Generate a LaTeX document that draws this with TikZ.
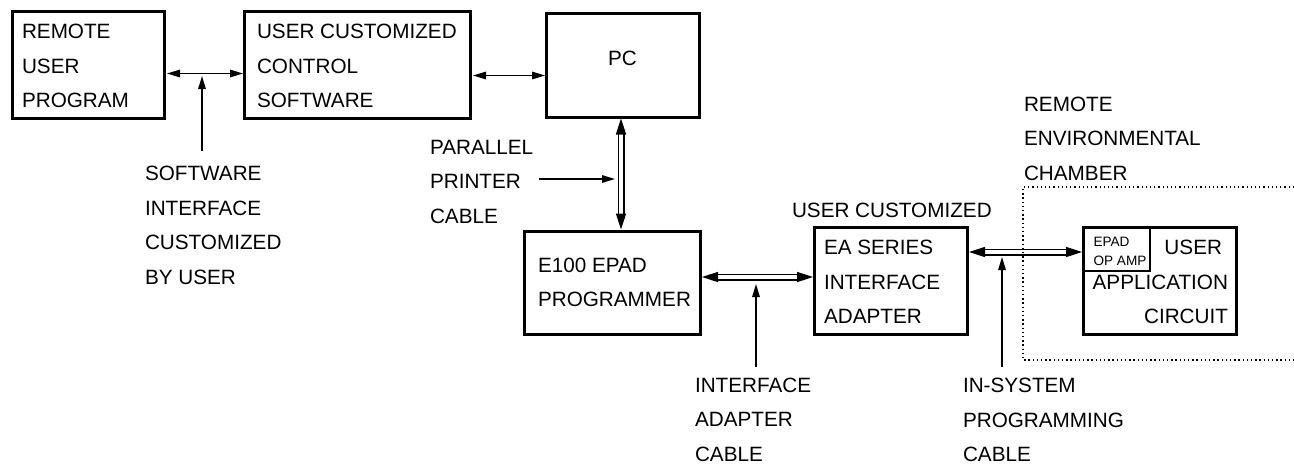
\documentclass[tikz,border=0pt]{standalone}
\usepackage{fontspec}
\setmainfont{Liberation Sans}
\usetikzlibrary{arrows.meta,calc}
\newcommand{\bigfont}{\fontsize{20.7}{34.5}\selectfont}
\newcommand{\smallfont}{\fontsize{13.6}{19}\selectfont}
% #1 box width, #2 left pad, #3 lines
\newcommand{\leftstack}[3]{\makebox[#1][l]{\hspace*{#2}\begin{tabular}[c]{@{}l@{}}#3\end{tabular}}}
\newcommand{\rightstack}[3]{\makebox[#1][r]{\begin{tabular}[c]{@{}r@{}}#3\end{tabular}\hspace*{#2}}}
\newcommand{\down}{\rule{0pt}{27.3pt}}
\tikzset{
  blockbox/.style={draw=black,line width=3pt,inner sep=0pt,outer sep=0pt,font=\bigfont},
  capbox/.style={draw=black,line width=1.3pt,inner sep=0pt,outer sep=0pt,font=\smallfont},
  caption/.style={inner sep=0pt,outer sep=0pt,anchor=base west,align=left,font=\bigfont},
  thinlink/.style={line width=1.5pt,{Triangle[length=13pt,width=7.5pt]}-{Triangle[length=13pt,width=7.5pt]}},
  pointer/.style={line width=1.5pt,-{Triangle[length=13pt,width=7.5pt]}},
  cable/.style={double=white,double distance=3.8pt,line width=1.6pt,{Triangle[length=16pt,width=10pt]}-{Triangle[length=16pt,width=10pt]}},
  chamber/.style={line width=1.2pt,dash pattern=on 1.3pt off 2.9pt}
}
\begin{document}
\begin{tikzpicture}[x=1pt,y=-1pt]
\useasboundingbox (0,0) rectangle (1294,464);
% boxes
\node[blockbox,minimum width=152pt,minimum height=104pt] (remote) at (88,65)
  {\leftstack{152pt}{10pt}{\down REMOTE\\USER\\PROGRAM}};
\node[blockbox,minimum width=226pt,minimum height=104pt] (control) at (357,65)
  {\leftstack{226pt}{13pt}{\down USER CUSTOMIZED\\CONTROL\\SOFTWARE}};
\node[blockbox,minimum width=153pt,minimum height=104pt] (pc) at (622.5,65)
  {PC\rule[-13pt]{0pt}{13pt}};
\node[blockbox,minimum width=176pt,minimum height=103pt] (prog) at (612,282.5)
  {\leftstack{176pt}{14pt}{E100 EPAD\\PROGRAMMER}};
\node[blockbox,minimum width=153pt,minimum height=104pt] (adapter) at (890.5,281)
  {\leftstack{153pt}{10pt}{\down EA SERIES\\INTERFACE\\ADAPTER}};
\node[blockbox,minimum width=153pt,minimum height=104pt] (app) at (1159.5,281)
  {\rightstack{153pt}{8pt}{\down USER\hspace*{6pt}\\APPLICATION\\CIRCUIT}};
\node[capbox,minimum width=67pt,minimum height=40pt] (opamp) at (1116.5,249)
  {\leftstack{67pt}{10.5pt}{\rule{0pt}{19.3pt}EPAD\\OP AMP}};
% captions
\node[caption] (capsw) at (145,284) {SOFTWARE\\INTERFACE\\CUSTOMIZED\\BY USER};
\node[caption] (capcable) at (430,223) {PARALLEL\\PRINTER\\CABLE};
\node[caption] (capuser) at (792,217) {USER CUSTOMIZED};
\node[caption] (capia) at (695,461) {INTERFACE\\ADAPTER\\CABLE};
\node[caption] (capisp) at (963,461.5) {IN-SYSTEM\\PROGRAMMING\\CABLE};
\node[caption] (capenv) at (1024,180) {REMOTE\\ENVIRONMENTAL\\CHAMBER};
% connector ends
\coordinate (swfrom) at (202,151);
\coordinate (swto) at (202,76);
\coordinate (parfrom) at (539,179);
\coordinate (parto) at (615,179);
\coordinate (iafrom) at (756,367);
\coordinate (iato) at (756,284);
\coordinate (ispfrom) at (1002,367);
\coordinate (ispto) at (1002,257);
\coordinate (chA) at (1294,187);
\coordinate (chB) at (1023,187);
\coordinate (chC) at (1023,360);
\coordinate (chD) at (1294,360);
% connectors
\draw[thinlink] ([xshift=3pt,yshift=-8.5pt]remote.east) -- ([xshift=-1pt,yshift=-8.5pt]control.west);
\draw[thinlink] ([xshift=3pt,yshift=-10.5pt]control.east) -- ([xshift=-1pt,yshift=-10.5pt]pc.west);
\draw[cable] ([xshift=-1.5pt,yshift=-1.5pt]pc.south) -- ([xshift=9pt,yshift=1.5pt]prog.north);
\draw[cable] ([xshift=2pt,yshift=5.5pt]prog.east |- prog.center) -- ([xshift=-1pt,yshift=5.5pt]adapter.west |- prog.center);
\draw[cable] ([xshift=2pt,yshift=29pt]adapter.east) -- ([xshift=-1pt,yshift=29pt]app.west);
\draw[pointer] (swfrom) -- (swto);
\draw[pointer] (parfrom) -- (parto);
\draw[pointer] (iafrom) -- (iato);
\draw[pointer] (ispfrom) -- (ispto);
\draw[chamber] (chA) -- (chB) -- (chC) -- (chD);
\end{tikzpicture}
\end{document}
